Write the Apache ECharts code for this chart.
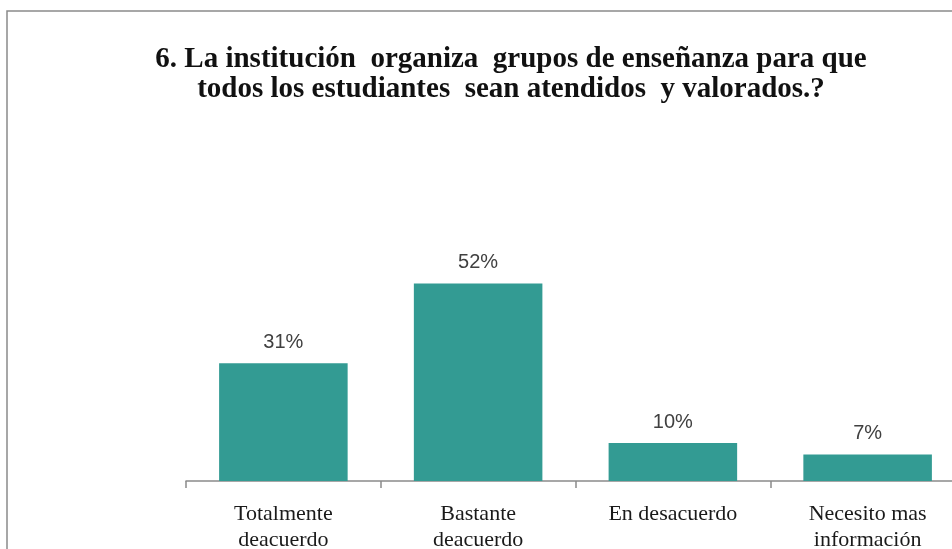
<!DOCTYPE html>
<html>
<head>
<meta charset="utf-8">
<script src="https://cdn.jsdelivr.net/npm/echarts@6/dist/echarts.min.js"></script>
<style>
html,body{margin:0;padding:0;background:#fff;}
#chart{width:952px;height:549px;}
</style>
</head>
<body>
<div id="chart"></div>
<script>
var titleText = "6. La institución  organiza  grupos de enseñanza para que\ntodos los estudiantes  sean atendidos  y valorados.?";
var categories = ["Totalmente\ndeacuerdo", "Bastante\ndeacuerdo", "En desacuerdo", "Necesito mas\ninformación"];
var values = [31, 52, 10, 7];

var chart = echarts.init(document.getElementById('chart'));
chart.setOption({
  backgroundColor: '#ffffff',
  animation: false,
  graphic: [{
    type: 'rect',
    shape: {x: 7, y: 11, width: 1000, height: 600},
    style: {fill: 'none', stroke: '#8a8a8a', lineWidth: 1.5},
    silent: true
  }],
  title: {
    text: titleText,
    left: 506,
    textAlign: 'center',
    top: 40,
    textStyle: {
      fontFamily: 'Liberation Serif',
      fontWeight: 'bold',
      fontSize: 29,
      lineHeight: 30,
      color: '#111'
    }
  },
  grid: {left: 186, right: -13, top: 253, bottom: 68, containLabel: false, outerBoundsMode: 'none'},
  xAxis: {
    type: 'category',
    data: categories,
    axisLine: {lineStyle: {color: '#8a8a8a', width: 1.5}},
    axisTick: {show: true, length: 7, lineStyle: {color: '#8a8a8a', width: 1.5}},
    axisLabel: {
      interval: 0,
      margin: 20,
      fontFamily: 'Liberation Serif',
      fontSize: 22,
      lineHeight: 26,
      color: '#1a1a1a'
    }
  },
  yAxis: {
    type: 'value',
    min: 0,
    max: 60,
    show: false,
    splitLine: {show: false}
  },
  series: [{
    type: 'bar',
    data: values,
    barCategoryGap: '34%',
    itemStyle: {color: '#339b93'},
    label: {
      show: true,
      position: 'top',
      distance: 11,
      formatter: '{c}%',
      fontFamily: 'Liberation Sans',
      fontSize: 20,
      color: '#404040'
    }
  }]
});
</script>
</body>
</html>
